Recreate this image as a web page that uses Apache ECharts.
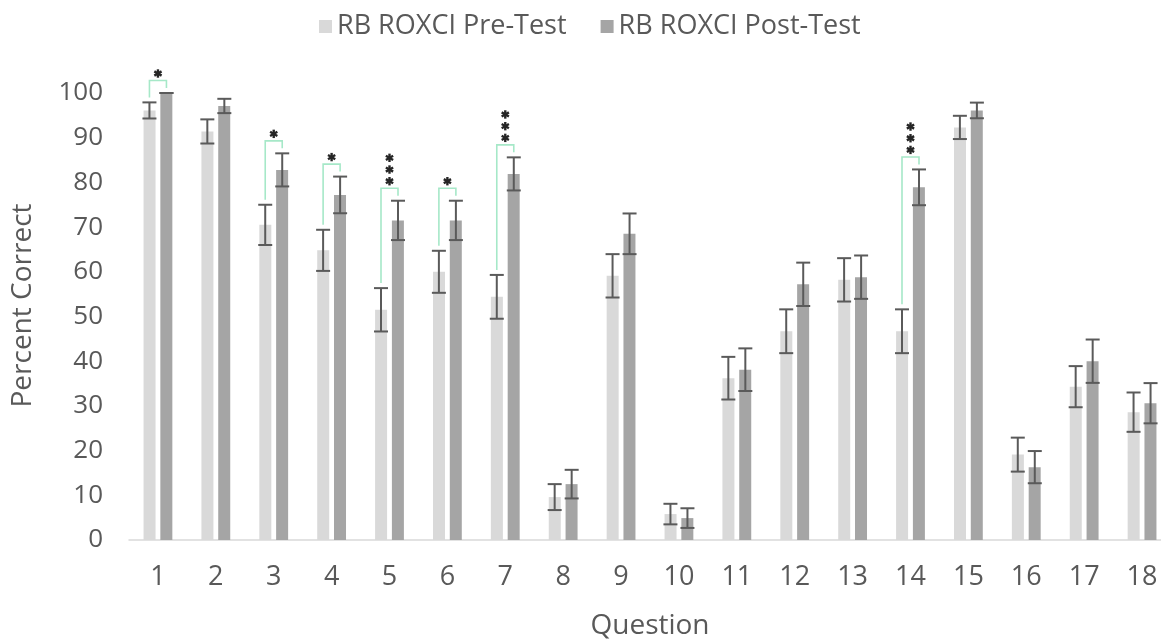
<!DOCTYPE html>
<html><head><meta charset="utf-8">
<script src="https://cdn.jsdelivr.net/npm/echarts@6/dist/echarts.min.js"></script>
<style>html,body{margin:0;padding:0;background:#fff}#c{width:1161px;height:641px}</style>
</head><body><div id="c"></div>
<script>
const categories = ['1','2','3','4','5','6','7','8','9','10','11','12','13','14','15','16','17','18'];
const preTest  = [96.1, 91.4, 70.5, 64.8, 51.5, 60.0, 54.4, 9.6, 59.1, 5.8, 36.2, 46.7, 58.2, 46.7, 92.3, 19.1, 34.3, 28.6];
const preErr   = [1.8, 2.7, 4.5, 4.6, 4.85, 4.7, 4.9, 2.9, 4.85, 2.3, 4.77, 4.9, 4.85, 4.9, 2.6, 3.8, 4.6, 4.4];
const postTest = [100, 97.1, 82.8, 77.2, 71.5, 71.5, 81.9, 12.5, 68.5, 4.9, 38.1, 57.2, 58.8, 78.9, 96.1, 16.3, 40.0, 30.6];
const postErr  = [0, 1.6, 3.7, 4.1, 4.4, 4.4, 3.7, 3.2, 4.55, 2.2, 4.77, 4.85, 4.85, 4.0, 1.75, 3.6, 4.85, 4.5];
const stars    = [1, 0, 1, 1, 3, 1, 3, 0, 0, 0, 0, 0, 0, 3, 0, 0, 0, 0];
const yTicks   = [0, 10, 20, 30, 40, 50, 60, 70, 80, 90, 100];

const FONT = '"Open Sans", "Noto Sans", sans-serif';
const TXT = '#595959';
const OFF = 8.5;   // bar centre offset within a category (px)
const CAP = 7;     // half cap width (px)

const chart = echarts.init(document.getElementById('c'));

function errRender(off) {
  return function (params, api) {
    const i = api.value(0), v = api.value(1), e = api.value(2);
    const t = api.coord([i, v + e]);
    const b = api.coord([i, v - e]);
    const x = t[0] + off;
    const st = { stroke: '#5a5a5a', lineWidth: 2 };
    return { type: 'group', children: [
      { type: 'line', shape: { x1: x, y1: t[1], x2: x, y2: b[1] }, style: st },
      { type: 'line', shape: { x1: x - CAP, y1: t[1], x2: x + CAP, y2: t[1] }, style: st },
      { type: 'line', shape: { x1: x - CAP, y1: b[1], x2: x + CAP, y2: b[1] }, style: st }
    ]};
  };
}

function starShape(cx, cy) {
  const r = 4.2, ch = [];
  [90, 30, 150].forEach(a => {
    const rad = a * Math.PI / 180, dx = Math.cos(rad) * r, dy = Math.sin(rad) * r;
    ch.push({ type: 'line', shape: { x1: cx - dx, y1: cy - dy, x2: cx + dx, y2: cy + dy },
      style: { stroke: '#262626', lineWidth: 2.4 } });
  });
  return ch;
}

function bracketRender(params, api) {
  const i = api.value(0), preTop = api.value(1), postTop = api.value(2), n = api.value(3);
  const p1 = api.coord([i, preTop]);
  const p2 = api.coord([i, postTop]);
  const xl = p1[0] - OFF, xr = p2[0] + OFF;
  const topY = Math.min(p1[1], p2[1]) - 12.5;
  const children = [{
    type: 'polyline',
    shape: { points: [[xl, p1[1] - 5], [xl, topY], [xr, topY], [xr, p2[1] - 5]] },
    style: { stroke: '#a6e8c8', lineWidth: 1.6, fill: null }
  }];
  const cx = (xl + xr) / 2;
  for (let k = 0; k < n; k++) {
    children.push(...starShape(cx, topY - 7 - k * 11.7));
  }
  return { type: 'group', children };
}

const preErrData = preTest.map((v, i) => [i, v, preErr[i]]);
const postErrData = postTest.map((v, i) => [i, v, postErr[i]]);
const bracketData = [];
stars.forEach((n, i) => { if (n > 0) bracketData.push([i, preTest[i] + preErr[i], postTest[i] + postErr[i], n]); });

chart.setOption({
  animation: false,
  textStyle: { fontFamily: FONT, color: TXT },
  legend: {
    data: ['RB ROXCI Pre-Test', 'RB ROXCI Post-Test'],
    left: 314, top: 8,
    itemWidth: 13, itemHeight: 13, itemGap: 34,
    icon: 'rect',
    textStyle: { fontFamily: FONT, fontSize: 27, color: TXT }
  },
  grid: { left: 129, right: -10, top: 93, bottom: 101, outerBoundsMode: 'none', containLabel: false },
  xAxis: {
    type: 'category', data: categories,
    axisLine: { lineStyle: { color: '#d9d9d9', width: 1.5 } },
    axisTick: { show: false },
    axisLabel: { fontSize: 27, color: TXT, margin: 24, fontFamily: FONT },
    name: 'Question', nameLocation: 'middle', nameGap: 72,
    nameTextStyle: { fontSize: 28, color: TXT, fontFamily: FONT }
  },
  yAxis: {
    type: 'value', min: yTicks[0], max: yTicks[yTicks.length - 1], interval: yTicks[1] - yTicks[0],
    splitLine: { show: false }, axisLine: { show: false }, axisTick: { show: false },
    axisLabel: { fontSize: 26, color: TXT, margin: 26, fontFamily: FONT },
    name: 'Percent Correct', nameLocation: 'middle', nameGap: 92,
    nameTextStyle: { fontSize: 28, color: TXT, fontFamily: FONT, padding: [0, 0, 0, 22] }
  },
  series: [
    { name: 'RB ROXCI Pre-Test', type: 'bar', data: preTest, barWidth: 12, barGap: '40%',
      itemStyle: { color: '#d9d9d9' } },
    { name: 'RB ROXCI Post-Test', type: 'bar', data: postTest, barWidth: 12, barGap: '40%',
      itemStyle: { color: '#a5a5a5' } },
    { type: 'custom', renderItem: errRender(-OFF), data: preErrData, encode: { x: 0, y: 1 }, z: 5, silent: true },
    { type: 'custom', renderItem: errRender(OFF), data: postErrData, encode: { x: 0, y: 1 }, z: 5, silent: true },
    { type: 'custom', renderItem: bracketRender, data: bracketData, encode: { x: 0, y: 2 }, z: 6, silent: true, clip: false }
  ]
});
</script></body></html>
